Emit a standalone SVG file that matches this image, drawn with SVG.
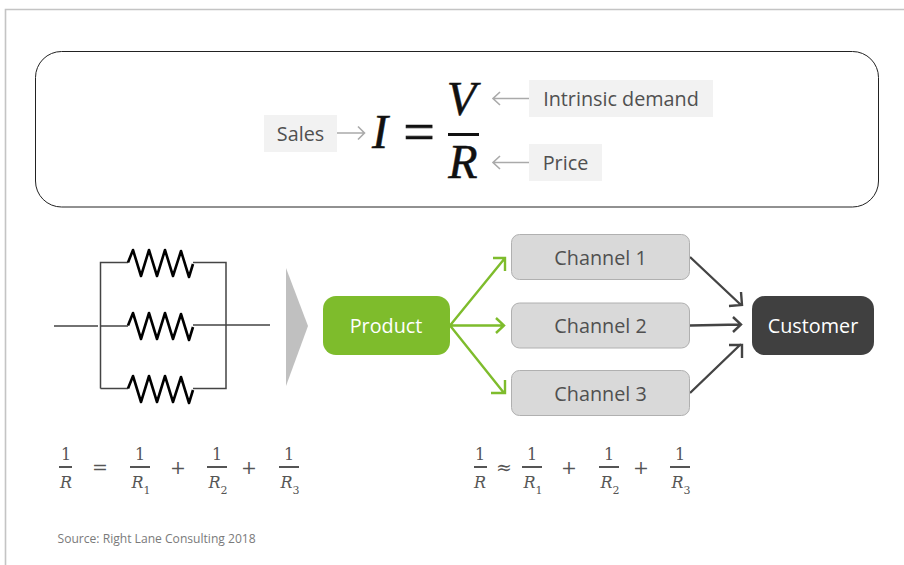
<svg xmlns="http://www.w3.org/2000/svg" width="904" height="565" viewBox="0 0 904 565">
<style>
text{font-family:"Open Sans","Noto Sans",sans-serif;fill:#505050}
.lab{font-size:19.800px}
.c{text-anchor:middle}
.m{font-family:"Liberation Serif",serif;fill:#111;font-size:48px;text-anchor:middle;stroke:#111;stroke-width:.5}
.mi{font-style:italic}
.s{font-family:"DejaVu Serif",serif;fill:#555;font-size:16px;text-anchor:middle}
.y{font-size:19px}
.sub{font-size:11px}
.tag{fill:#f2f2f2}
.ga{fill:none;stroke:#aaa;stroke-width:1.600}
.wire{fill:none;stroke:#444;stroke-width:1.500}
.res{fill:none;stroke:#000;stroke-width:2.600;stroke-linejoin:round}
.ch{fill:#d9d9d9;stroke:#b0b0b0;stroke-width:1}
.gr{fill:none;stroke:#7ebc2c;stroke-width:2.400}
.dk{fill:none;stroke:#444;stroke-width:2.400}
.fr{fill:#555}
</style>
<defs>
<polyline id="z" points="128,262.500 133,250 141,276 149,250 157,276 165,250 173,276 181,251 189,277 193,264" class="res"/>
</defs>
<path d="M904 9.500H5.500V565" fill="none" stroke="#c4c4c4" stroke-width="1.600"/>
<rect x="35.500" y="51.500" width="843" height="155.500" rx="26" fill="#fff" stroke="#222" stroke-width="1"/>
<g id="equation">
<text class="m mi" x="380" y="148">I</text>
<text class="m" x="419" y="151" style="font-size:56px;stroke-width:.6">=</text>
<text class="m mi" x="461.500" y="115">V</text>
<rect x="448" y="133" width="31" height="3" fill="#111"/>
<text class="m mi" x="463" y="178">R</text>
</g>
<g id="sales"><rect class="tag" x="264" y="115" width="73" height="37"/><text class="lab c" x="300.500" y="141">Sales</text></g>
<g id="intrinsic"><rect class="tag" x="529" y="80" width="184" height="37"/><text class="lab c" x="621" y="106">Intrinsic demand</text></g>
<g id="price"><rect class="tag" x="529" y="144" width="73" height="37"/><text class="lab c" x="565.500" y="170">Price</text></g>
<g id="circuit">
<path class="wire" d="M54 326H98M100.500 326H128M100.500 388.500V262.500H128M193 262.500H226V388.500H193M128 388.500H100.500M193 325H270"/>
<use href="#z"/><use href="#z" y="63"/><use href="#z" y="126"/>
</g>
<polygon id="big-arrow" points="286,268 308,326 286,386" fill="#c0c0c0"/>
<g id="connectors">
<path class="ga" d="M529 98.500H493M500 92L493 98.500L500 105M529 162.500H493M500 156L493 162.500L500 169M337 133H364M358 126.500L364.500 133L358 139.500"/>
<path class="gr" d="M450 325.500L505 258M493 258H505V271M450 325.500H503M496 318L504 325.500L496 333M450 325.500L504 393M491 393H505V380"/>
<path class="dk" d="M690 257L741 305M729 306L742 305L741 292M690 325.500L741 324.500M733 317L741 324.500L733 332M690 393L741 344M729 345H742V358"/>
</g>
<g id="product"><rect x="323" y="296" width="127" height="59" rx="13" fill="#7ebc2c"/><text class="lab c" x="386" y="332.500" style="fill:#fff">Product</text></g>
<g id="channel1"><rect class="ch" x="511.500" y="234.500" width="178" height="45" rx="8"/><text class="lab c" x="600.500" y="264.500">Channel 1</text></g>
<g id="channel2"><rect class="ch" x="511.500" y="303" width="178" height="45" rx="8"/><text class="lab c" x="600.500" y="332.500">Channel 2</text></g>
<g id="channel3"><rect class="ch" x="511.500" y="370.500" width="178" height="45" rx="8"/><text class="lab c" x="600.500" y="400.500">Channel 3</text></g>
<g id="customer"><rect x="752" y="296" width="122" height="59" rx="13" fill="#404040"/><text class="lab c" x="813" y="332.500" style="fill:#fff">Customer</text></g>
<g id="formula-left">
<text class="s" x="66" y="460">1</text><rect class="fr" x="59" y="466" width="13" height="2"/><text class="s mi" x="66" y="488">R</text>
<text class="s y" x="100" y="474">=</text>
<text class="s" x="140" y="460">1</text><rect class="fr" x="130" y="466" width="20" height="2"/><text class="s mi" x="137.500" y="488">R</text><text class="s sub" x="147" y="494">1</text>
<text class="s y" x="178" y="474">+</text>
<text class="s" x="217" y="460">1</text><rect class="fr" x="207" y="466" width="20" height="2"/><text class="s mi" x="214.500" y="488">R</text><text class="s sub" x="224" y="494">2</text>
<text class="s y" x="249" y="474">+</text>
<text class="s" x="289" y="460">1</text><rect class="fr" x="279" y="466" width="20" height="2"/><text class="s mi" x="286.500" y="488">R</text><text class="s sub" x="296" y="494">3</text>
</g>
<g id="formula-right">
<text class="s" x="480" y="460">1</text><rect class="fr" x="474" y="466" width="13" height="2"/><text class="s mi" x="480" y="488">R</text>
<text class="s y" x="504" y="474">≈</text>
<text class="s" x="532" y="460">1</text><rect class="fr" x="522" y="466" width="20" height="2"/><text class="s mi" x="529.500" y="488">R</text><text class="s sub" x="539" y="494">1</text>
<text class="s y" x="569" y="474">+</text>
<text class="s" x="609" y="460">1</text><rect class="fr" x="599" y="466" width="20" height="2"/><text class="s mi" x="606.500" y="488">R</text><text class="s sub" x="616" y="494">2</text>
<text class="s y" x="641" y="474">+</text>
<text class="s" x="680" y="460">1</text><rect class="fr" x="670" y="466" width="20" height="2"/><text class="s mi" x="677.500" y="488">R</text><text class="s sub" x="687" y="494">3</text>
</g>
<text x="57.500" y="543" font-size="12.100" style="fill:#7a7a7a">Source: Right Lane Consulting 2018</text>
</svg>
